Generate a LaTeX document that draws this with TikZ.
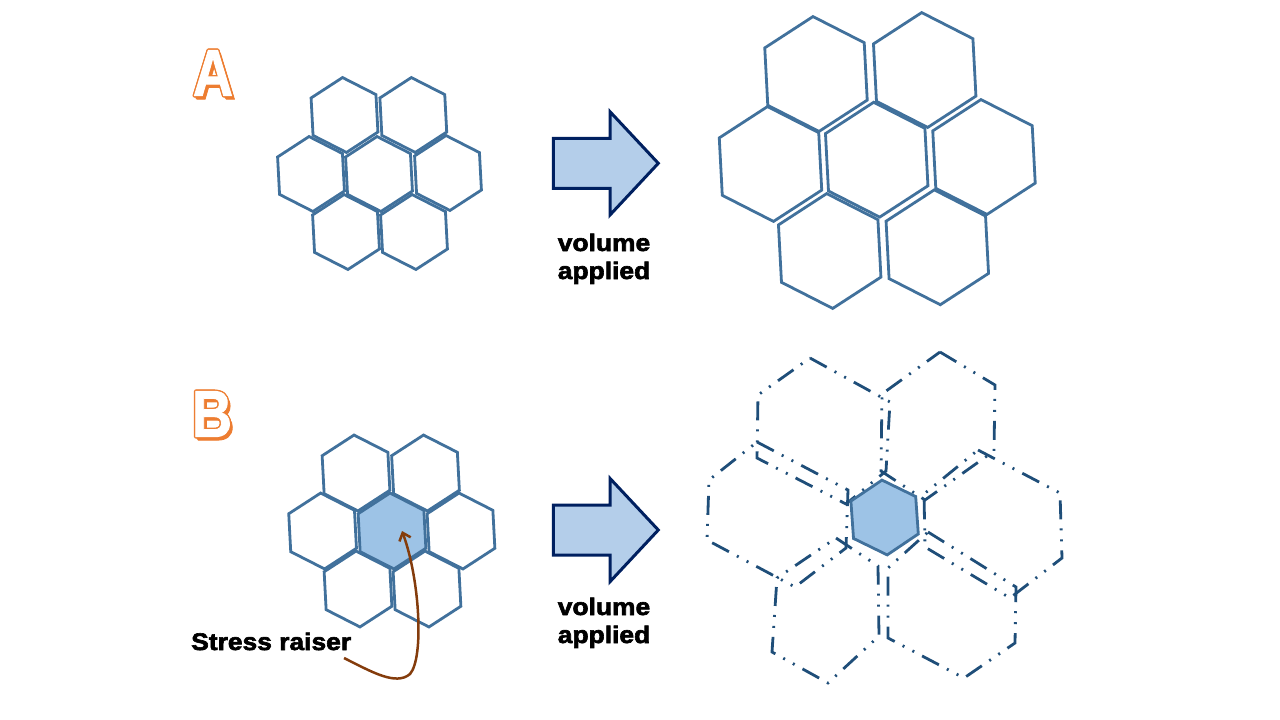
\documentclass[tikz,border=0pt]{standalone}
\usepackage{fontspec}
\setmainfont{Liberation Sans}
\newfontfamily\heavyfont{Liberation Sans}[FakeBold=2.6,FakeStretch=1.1]
\newfontfamily\letterfont{Liberation Sans}[FakeBold=1.5]
\usepackage{graphicx}
\usetikzlibrary{arrows.meta}
\definecolor{hexline}{RGB}{65,113,156}
\definecolor{dashline}{RGB}{31,78,121}
\definecolor{hexfill}{RGB}{157,195,230}
\definecolor{arrfill}{RGB}{180,206,234}
\definecolor{arrline}{RGB}{0,32,96}
\definecolor{wordorange}{RGB}{237,125,49}
\definecolor{raiser}{RGB}{132,60,12}
\tikzset{
 hexsolid/.style={draw=hexline, line width=2.8pt, line join=miter},
 hexdash/.style={draw=dashline, line width=2.8pt, line join=miter,
   dash pattern=on 19pt off 9pt on 2pt off 9pt on 2pt off 9pt},
 hexstress/.style={hexsolid, fill=hexfill},
 blockarrow/.style={draw=arrline, fill=arrfill, line width=3pt, line join=miter},
 caption/.style={font=\heavyfont\bfseries\fontsize{24}{26}\selectfont, anchor=base, inner sep=0pt},
 artletter/.style={font=\letterfont\bfseries\fontsize{66}{66}\selectfont, inner sep=0pt},
 raiserline/.style={draw=raiser, line width=2.5pt, -{Straight Barb[length=7pt,width=12pt]}},
}
\newcommand\hexat[5]{%
 \begin{scope}[shift={(#2,-#3)},rotate=#4,scale=#5]
 \path[#1] (90:1)--(150:1)--(210:1)--(270:1)--(330:1)--(30:1)--cycle;
 \end{scope}}
\newcommand\wordart[4]{%
 \foreach \dx/\dy in {2.2/-2.8,2.8/-3.4,1.6/-2.2}{
   \node[artletter, text=wordorange] at (#2+\dx,-#3+\dy) {\scalebox{0.84}[1]{#4}};}
 \foreach \dx/\dy in {1.4/0,-1.4/0,0/1.4,0/-1.4,1/1,-1/1,1/-1,-1/-1}{
   \node[artletter, text=wordorange] at (#2+\dx,-#3+\dy) {\scalebox{0.84}[1]{#4}};}
 \node[artletter, text=white] (#1) at (#2,-#3) {\scalebox{0.84}[1]{#4}};}
\begin{document}
\begin{tikzpicture}[x=1pt,y=1pt]
\useasboundingbox (0,0) rectangle (1280,-720);

% labels
\wordart{labA}{213}{73}{A}
\wordart{labB}{212}{414}{B}

% ---- A: small cluster
\hexat{hexsolid}{344.5}{115}{3}{37.5}
\hexat{hexsolid}{413.3}{115}{3}{37.5}
\hexat{hexsolid}{311}{174}{3}{37.5}
\hexat{hexsolid}{379}{174}{3}{37.5}
\hexat{hexsolid}{448}{173}{3}{37.5}
\hexat{hexsolid}{346}{232}{3}{37.5}
\hexat{hexsolid}{414}{232}{3}{37.5}

% ---- A: expanded cluster
\hexat{hexsolid}{816}{74}{3}{57.5}
\hexat{hexsolid}{924.7}{70}{3}{57.5}
\hexat{hexsolid}{770.5}{164}{3}{57.5}
\hexat{hexsolid}{876.7}{159.7}{3}{57.5}
\hexat{hexsolid}{984}{157}{3}{57.5}
\hexat{hexsolid}{829.7}{251}{3}{57.5}
\hexat{hexsolid}{937.3}{247.3}{3}{57.5}

% ---- block arrows
\draw[blockarrow] (553.3,-138.3) -- (610,-138.3) -- (610,-111.7) -- (658.3,-163.3)
  -- (610,-215) -- (610,-188.3) -- (553.3,-188.3) -- cycle;
\draw[blockarrow] (553.3,-505) -- (610,-505) -- (610,-478.4) -- (658.3,-530)
  -- (610,-581.7) -- (610,-555) -- (553.3,-555) -- cycle;

\node[caption] (volA) at (604,-251) {volume};
\node[caption] (appA) at (604,-279) {applied};
\node[caption] (volB) at (604,-615) {volume};
\node[caption] (appB) at (604,-643) {applied};

% ---- B: small cluster
\hexat{hexsolid}{356}{473}{3}{38}
\hexat{hexsolid}{425.5}{473}{3}{38}
\hexat{hexsolid}{322.6}{531}{3}{38}
\hexat{hexsolid}{461}{531}{3}{38}
\hexat{hexsolid}{358}{589}{3}{38}
\hexat{hexsolid}{427}{589}{3}{38}
\hexat{hexstress}{392}{531}{3}{38}
\coordinate (cB) at (392,-531);

% ---- B: expanded cluster (dash-dot outlines)
\draw[hexdash] (810,-358) -- (890,-402) -- (886,-471) -- (846,-504) -- (757,-458) -- (758,-395) -- cycle;
\draw[hexdash] (940,-352) -- (995,-385) -- (994,-451) -- (925,-500) -- (881,-471) -- (882,-394) -- cycle;
\draw[hexdash] (757,-442) -- (848,-490) -- (846,-548) -- (795,-587) -- (707,-540) -- (709,-480) -- cycle;
\draw[hexdash] (978,-450) -- (1060,-493) -- (1062,-558) -- (1010,-598) -- (925,-547) -- (924,-494) -- cycle;
\draw[hexdash] (836,-538) -- (878,-566) -- (879,-636) -- (828,-683) -- (772,-652) -- (777,-578) -- cycle;
\draw[hexdash] (928,-532) -- (1016,-587) -- (1015,-643) -- (964,-678) -- (888,-638) -- (888,-568) -- cycle;
\hexat{hexstress}{884.6}{517.5}{4}{37.5}

% ---- stress raiser
\node[caption, anchor=base west] (sr) at (191,-650) {Stress raiser};
\coordinate (srTail) at (344,-658);
\coordinate (srTip) at (402,-531);
\draw[raiserline] (srTail) .. controls (372,-672) and (396,-686) .. (410,-674)
  .. controls (424,-658) and (420,-580) .. (srTip);
\end{tikzpicture}
\end{document}
